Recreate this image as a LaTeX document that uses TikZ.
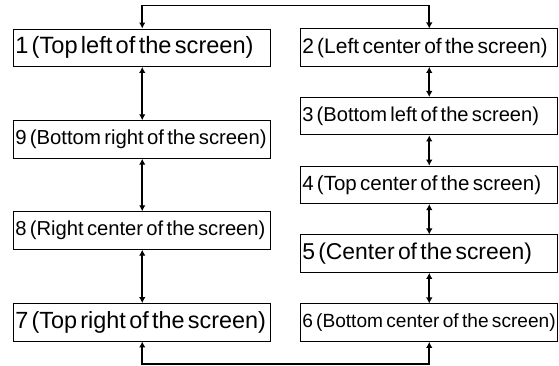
\documentclass[tikz,border=0pt]{standalone}
\usepackage{fontspec}
\setmainfont[WordSpace=1.2]{Liberation Sans}
\usetikzlibrary{arrows.meta}
\newcommand\lblsize[1]{\fontsize{#1}{#1}\selectfont}
\begin{document}
\begin{tikzpicture}[x=1pt,y=1pt,
  box/.style={draw, line width=0.9pt, inner xsep=1.5pt, inner ysep=0pt,
    text width=254pt, minimum height=37.5pt, align=left},
  link/.style={line width=1.7pt,
    {Latex[length=6pt,width=6.5pt]}-{Latex[length=6pt,width=6.5pt]}}]
\useasboundingbox (0,0) rectangle (559,366);
% left column
\node[box] (b1) at (142.25,318.25) {\mbox{\lblsize{23.6}1 (Top left of the screen)}};
\node[box] (b9) at (142.25,226.5) {\mbox{\lblsize{20.3}9 (Bottom right of the screen)}};
\node[box] (b8) at (142.25,135.5) {\mbox{\lblsize{20.2}8 (Right center of the screen)}};
\node[box] (b7) at (142.25,43.7) {\mbox{\lblsize{23.4}7 (Top right of the screen)}};
% right column
\node[box] (b2) at (429.25,318.3) {\mbox{\lblsize{21.0}2 (Left center of the screen)}};
\node[box] (b3) at (429.25,249.8) {\mbox{\lblsize{20.1}3 (Bottom left of the screen)}};
\node[box] (b4) at (429.25,181.1) {\mbox{\lblsize{20.5}4 (Top center of the screen)}};
\node[box] (b5) at (429.25,112.3) {\mbox{\lblsize{22.9}5 (Center of the screen)}};
\node[box] (b6) at (429.25,43.3) {\mbox{\lblsize{19.1}6 (Bottom center of the screen)}};
% corner levels
\coordinate (tc) at (286,360.5);
\coordinate (bc) at (286,2);
% connectors
\draw[link] (b1.north) |- (tc) -| (b2.north);
\draw[link] (b1.south) -- (b9.north);
\draw[link] (b9.south) -- (b8.north);
\draw[link] (b8.south) -- (b7.north);
\draw[link] (b2.south) -- (b3.north);
\draw[link] (b3.south) -- (b4.north);
\draw[link] (b4.south) -- (b5.north);
\draw[link] (b5.south) -- (b6.north);
\draw[link] (b7.south) |- (bc) -| (b6.south);
\end{tikzpicture}
\end{document}
